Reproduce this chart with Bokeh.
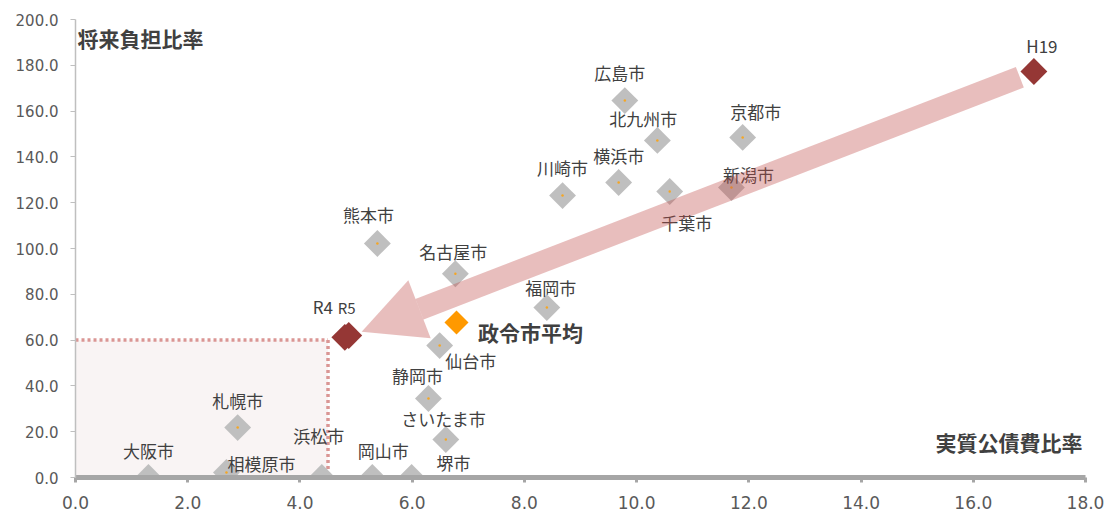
import math
from bokeh.plotting import figure
from bokeh.models import (ColumnDataSource, Range1d, NumeralTickFormatter, FixedTicker,
                          Arrow, NormalHead, BoxAnnotation)
from bokeh.core.properties import value
from bokeh.embed import file_html
from bokeh.resources import INLINE

# ---- data ----
cities = ["大阪市", "相模原市", "札幌市", "浜松市", "岡山市", "堺市", "さいたま市", "静岡市",
          "仙台市", "福岡市", "名古屋市", "熊本市", "川崎市", "横浜市", "千葉市", "北九州市",
          "広島市", "京都市", "新潟市"]
city_x = [1.30, 2.69, 2.89, 4.39, 5.29, 5.99, 6.60, 6.29,
          6.49, 8.40, 6.77, 5.38, 8.68, 9.68, 10.59, 10.37,
          9.79, 11.89, 11.69]
city_y = [0.0, 2.2, 21.8, 0.0, 0.0, 0.0, 16.6, 34.5,
          57.6, 74.2, 89.0, 102.2, 123.1, 128.8, 124.9, 147.2,
          164.6, 148.5, 126.6]

avg_label = ["政令市平均"]
avg_x = [6.79]
avg_y = [67.7]

own_labels = ["H19", "R4", "R5"]
own_x = [17.08, 4.80, 4.87]
own_y = [177.3, 61.2, 62.0]

limit_x = 4.5   # 実質公債費比率 threshold box
limit_y = 60.0  # 将来負担比率 threshold box

x_ticks = [0, 2, 4, 6, 8, 10, 12, 14, 16, 18]
y_ticks = [0, 20, 40, 60, 80, 100, 120, 140, 160, 180, 200]

# ---- styles (label offsets in px) ----
city_dx = [0, 35, 0, -3, 11, 42, -2, -11, 31, 4, -2, -9, 0, 0, 17, -14, -5, 13, 17]
city_dy = [-27, -9, -27, -42, -27, -15, -21, -23, 15, -20, -22, -29, -28, -27, 31, -22, -28, -26, -13]

FONT = "Noto Sans CJK JP"
NUMFONT = "DejaVu Sans"
TXT = "#404040"

p = figure(width=1106, height=514, output_backend="svg", toolbar_location=None,
           x_range=Range1d(0, 18), y_range=Range1d(0, 200),
           min_border_left=75, min_border_right=21, min_border_top=19, min_border_bottom=37)
p.outline_line_color = None
p.xgrid.visible = False
p.ygrid.visible = False
p.background_fill_color = "white"

# threshold box
p.add_layout(BoxAnnotation(left=0, right=limit_x, bottom=0, top=limit_y,
                           fill_color="#F9F4F4", fill_alpha=1.0, line_color=None, level="underlay"))
p.segment(x0=[0, limit_x], y0=[limit_y, limit_y], x1=[limit_x, limit_x], y1=[limit_y, 0],
          line_color="#DA9694", line_width=3.5, line_dash="3 3")

# axes
p.xaxis.ticker = FixedTicker(ticks=x_ticks)
p.yaxis.ticker = FixedTicker(ticks=y_ticks)
p.xaxis.formatter = NumeralTickFormatter(format="0.0")
p.yaxis.formatter = NumeralTickFormatter(format="0.0")
for ax in (p.xaxis, p.yaxis):
    ax.major_label_text_font = NUMFONT
    ax.major_label_text_color = "#595959"
    ax.minor_tick_line_color = None
p.xaxis.major_label_text_font_size = "17px"
p.yaxis.major_label_text_font_size = "15px"
p.xaxis.axis_line_color = "#A6A6A6"
p.xaxis.axis_line_width = 5
p.xaxis.major_tick_line_color = "#A6A6A6"
p.xaxis.major_tick_line_width = 3
p.xaxis.major_tick_out = 5
p.xaxis.major_tick_in = 0
p.xaxis.major_label_standoff = 13
p.yaxis.axis_line_color = "#BFBFBF"
p.yaxis.axis_line_width = 1.5
p.yaxis.major_tick_line_color = "#BFBFBF"
p.yaxis.major_tick_out = 5
p.yaxis.major_tick_in = 0
p.yaxis.major_label_standoff = 12

# city markers
src = ColumnDataSource(dict(x=city_x, y=city_y, name=cities, dx=city_dx, dy=city_dy))
p.scatter("x", "y", source=src, marker="square", size=19, angle=math.pi / 4,
          fill_color="#BFBFBF", line_color=None)
p.scatter("x", "y", source=src, marker="circle", size=2.5, fill_color="#F5A623", line_color=None)

# average
p.scatter(avg_x, avg_y, marker="square", size=17, angle=math.pi / 4,
          fill_color="#FF9900", line_color=None)

# own city
p.scatter(own_x, own_y, marker="square", size=19, angle=math.pi / 4,
          fill_color="#953735", line_color=None)

# arrow H19 -> R4
p.add_layout(Arrow(x_start=own_x[0] - 0.25, y_start=own_y[0] - 2.5,
                   x_end=own_x[1] + 0.3, y_end=own_y[1] + 2.5,
                   line_color="#C0504D", line_alpha=0.37, line_width=22,
                   end=NormalHead(size=62, fill_color="#C0504D", fill_alpha=0.37,
                                  line_color=None)))

# labels
p.text("x", "y", text="name", source=src, x_offset="dx", y_offset="dy",
       text_font=value(FONT), text_font_size="17px", text_color=TXT,
       text_align="center", text_baseline="middle")
p.text(avg_x, avg_y, text=avg_label, x_offset=74, y_offset=10,
       text_font=value(FONT), text_font_size="21px", text_font_style="bold", text_color=TXT,
       text_align="center", text_baseline="middle")
p.text([own_x[0]], [own_y[0]], text=[own_labels[0]], x_offset=8, y_offset=-26,
       text_font=value(FONT), text_font_size="17px", text_color=TXT,
       text_align="center", text_baseline="middle")
p.text([own_x[1]], [own_y[1]], text=[own_labels[1]], x_offset=-22, y_offset=-31,
       text_font=value(FONT), text_font_size="17px", text_color=TXT,
       text_align="center", text_baseline="middle")
p.text([own_x[2]], [own_y[2]], text=[own_labels[2]], x_offset=-2, y_offset=-28,
       text_font=value(FONT), text_font_size="15px", text_color=TXT,
       text_align="center", text_baseline="middle")

# axis titles inside plot
p.text([0], [200], text=["将来負担比率"], x_offset=2, y_offset=18,
       text_font=value(FONT), text_font_size="21px", text_font_style="bold", text_color=TXT,
       text_align="left", text_baseline="middle")
p.text([18], [0], text=["実質公債費比率"], x_offset=-3, y_offset=-36,
       text_font=value(FONT), text_font_size="21px", text_font_style="bold", text_color=TXT,
       text_align="right", text_baseline="middle")

open("out.html", "w").write(file_html(p, INLINE))
